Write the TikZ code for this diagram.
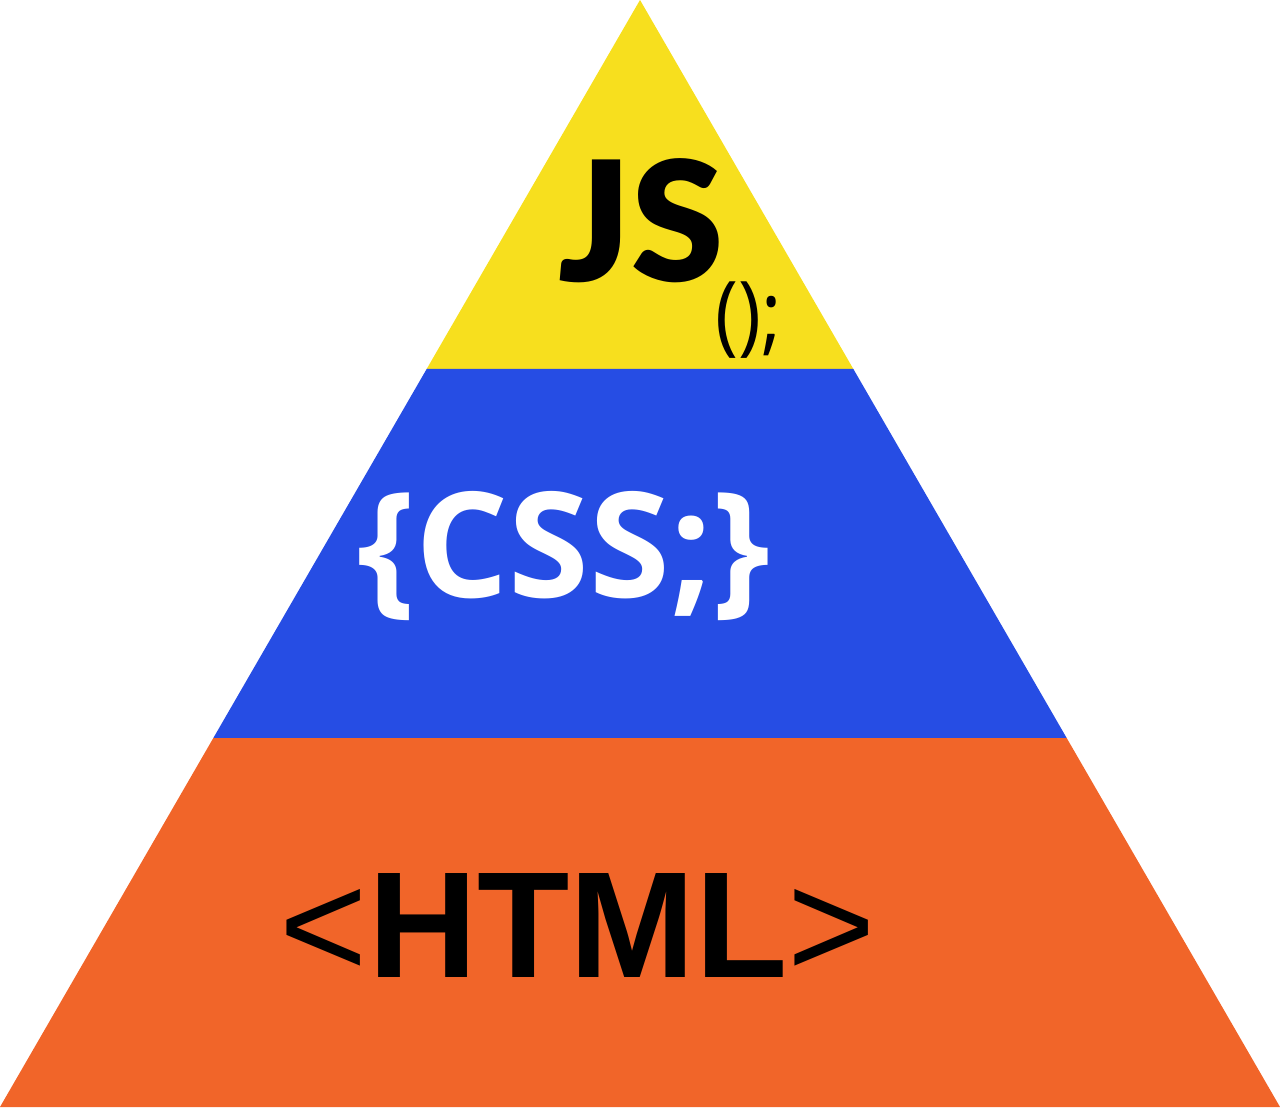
\documentclass[tikz,border=0pt]{standalone}
\usepackage{fontspec}
\setmainfont{Open Sans}
\newfontfamily\htmlfont{Liberation Sans}
\newfontfamily\jsfont{Lato Black}
\usepackage{tikz}
\usetikzlibrary{positioning, calc}

\definecolor{jsyellow}{HTML}{F7DF1E}
\definecolor{cssblue}{HTML}{264DE4}
\definecolor{htmlorange}{HTML}{F16529}

\begin{document}
\begin{tikzpicture}[
        layer/.style={draw=none},
        tag/.style={inner sep=0pt, anchor=base}
    ]
        \useasboundingbox (0,0) rectangle (12.8,11.09);

        % Pyramid corners
        \coordinate (apex) at (6.4,11.09);
        \coordinate (bl) at (0,0.02);
        \coordinate (br) at (12.8,0.02);
        \coordinate (jsl) at ($(apex)!0.3333!(bl)$);
        \coordinate (jsr) at ($(apex)!0.3333!(br)$);
        \coordinate (cssl) at ($(apex)!0.6667!(bl)$);
        \coordinate (cssr) at ($(apex)!0.6667!(br)$);

        % Layers
        \fill[layer, jsyellow] (apex) -- (jsr) -- (jsl) -- cycle;
        \fill[layer, cssblue] (jsl) -- (jsr) -- (cssr) -- (cssl) -- cycle;
        \fill[layer, htmlorange] (cssl) -- (cssr) -- (br) -- (bl) -- cycle;

        % Labels
        \node[tag, font=\fontsize{47.5}{48}\selectfont\jsfont] (js) at (6.41,8.27) {JS};
        \node[tag, anchor=base west, font=\fontsize{25}{25}\selectfont] (call) at (7.15,7.64) {\scalebox{0.88}[1]{();}};
        \node[tag, text=white, font=\fontsize{41.7}{42}\selectfont\bfseries] (css) at (5.64,5.11) {\{CSS;\}};
        \node[tag, font=\fontsize{43}{43}\selectfont\htmlfont] (html) at (5.78,1.32) {<\textbf{HTML}>};
\end{tikzpicture}
\end{document}
